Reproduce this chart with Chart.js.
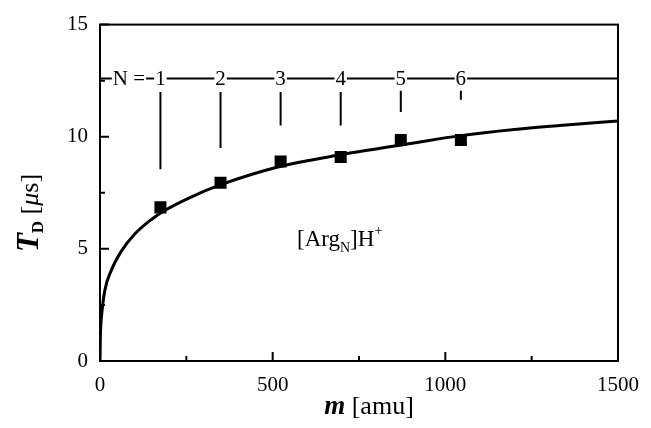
<!DOCTYPE html>
<html>
<head>
<meta charset="utf-8">
<script src="https://cdn.jsdelivr.net/npm/chart.js@4.4.0/dist/chart.umd.min.js"></script>
<style>
  html, body { margin: 0; padding: 0; background: #fff; }
  #wrap { width: 651px; height: 428px; }
</style>
</head>
<body>
<div id="wrap"><canvas id="chart" width="651" height="428"></canvas></div>
<script>
// cluster size N and the measured points
const clusterN = [1, 2, 3, 4, 5, 6];
const massAmu = [175, 349, 523, 697, 871, 1045];
const tdMeasured = [6.85, 7.95, 8.9, 9.1, 9.85, 9.85];

// fitted curve
const fitMass = [0, 1, 2, 5, 14, 33, 62, 100, 148, 186, 262, 348, 515, 697, 900, 1045, 1200, 1350, 1500];
const fitTd = [0, 1.0, 1.5, 2.1, 3.15, 4.05, 4.9, 5.65, 6.3, 6.7, 7.3, 7.85, 8.65, 9.2, 9.7, 10.05, 10.32, 10.52, 10.7];

// "N =" bar and the marker lines under each number
const nBarLevel = 12.6;
const markTop = [12.0, 12.0, 12.0, 12.0, 12.05, 12.05];
const markBottom = [8.55, 9.5, 10.5, 10.5, 11.1, 11.65];

// axis ticks
const xMajor = [0, 500, 1000, 1500];
const xMinor = [250, 750, 1250];
const yMajor = [0, 5, 10, 15];
const yMinor = [2.5, 7.5, 12.5];

const serif = '"Liberation Serif", "DejaVu Serif", serif';

const datasets = [];
datasets.push({
  label: 'fit',
  data: fitMass.map((m, i) => ({ x: m, y: fitTd[i] })),
  showLine: true,
  borderColor: '#000',
  borderWidth: 3,
  pointRadius: 0,
  cubicInterpolationMode: 'monotone'
});
datasets.push({
  label: 'bar',
  data: [{ x: 0, y: nBarLevel }, { x: 1500, y: nBarLevel }],
  showLine: true,
  borderColor: '#000',
  borderWidth: 2,
  pointRadius: 0
});
massAmu.forEach((m, i) => {
  datasets.push({
    label: 'mark' + clusterN[i],
    data: [{ x: m, y: markTop[i] }, { x: m, y: markBottom[i] }],
    showLine: true,
    borderColor: '#000',
    borderWidth: 2,
    pointRadius: 0
  });
});
datasets.push({
  label: 'measured',
  data: massAmu.map((m, i) => ({ x: m, y: tdMeasured[i] })),
  showLine: false,
  pointStyle: 'rect',
  pointRadius: 8.5,
  backgroundColor: '#000',
  borderColor: '#000',
  borderWidth: 0
});

const decor = {
  id: 'decor',
  afterDatasetsDraw(chart) {
    const ctx = chart.ctx;
    const xs = chart.scales.x, ys = chart.scales.y;
    const a = chart.chartArea;
    ctx.save();
    ctx.strokeStyle = '#000';
    ctx.lineWidth = 2;
    ctx.strokeRect(a.left, a.top, a.right - a.left, a.bottom - a.top);

    ctx.beginPath();
    xMajor.forEach(v => { const p = xs.getPixelForValue(v); ctx.moveTo(p, a.bottom); ctx.lineTo(p, a.bottom - 9); });
    xMinor.forEach(v => { const p = xs.getPixelForValue(v); ctx.moveTo(p, a.bottom); ctx.lineTo(p, a.bottom - 5); });
    yMajor.forEach(v => { const p = ys.getPixelForValue(v); ctx.moveTo(a.left, p); ctx.lineTo(a.left + 9, p); });
    yMinor.forEach(v => { const p = ys.getPixelForValue(v); ctx.moveTo(a.left, p); ctx.lineTo(a.left + 5, p); });
    ctx.stroke();

    // N labels on the bar
    ctx.font = '21px ' + serif;
    ctx.textBaseline = 'middle';
    ctx.textAlign = 'center';
    const yb = ys.getPixelForValue(nBarLevel);
    const label = (txt, x) => {
      const w = ctx.measureText(txt).width;
      ctx.fillStyle = '#fff';
      ctx.fillRect(x - w / 2 - 1, yb - 9, w + 2, 18);
      ctx.fillStyle = '#000';
      ctx.fillText(txt, x, yb + 1);
    };
    label('N =', 129);
    massAmu.forEach((m, i) => label(String(clusterN[i]), xs.getPixelForValue(m)));

    // [Arg_N]H+
    ctx.textAlign = 'left';
    ctx.textBaseline = 'alphabetic';
    let x = 297, y = 246;
    ctx.font = '23px ' + serif;
    ctx.fillText('[Arg', x, y); x += ctx.measureText('[Arg').width;
    ctx.font = '14px ' + serif;
    ctx.fillText('N', x, y + 6); x += ctx.measureText('N').width;
    ctx.font = '23px ' + serif;
    ctx.fillText(']H', x, y); x += ctx.measureText(']H').width;
    ctx.font = '14px ' + serif;
    ctx.fillText('+', x, y - 11);

    // x title
    ctx.font = 'italic bold 27px ' + serif;
    const mW = ctx.measureText('m').width;
    ctx.font = '26px ' + serif;
    const restW = ctx.measureText(' [amu]').width;
    x = 369 - (mW + restW) / 2; y = 414;
    ctx.font = 'italic bold 27px ' + serif;
    ctx.fillText('m', x, y);
    ctx.font = '26px ' + serif;
    ctx.fillText(' [amu]', x + mW, y);

    // y title, rotated
    ctx.translate(38, 213);
    ctx.rotate(-Math.PI / 2);
    ctx.font = 'italic bold 31px ' + serif;
    const tW = ctx.measureText('T').width;
    ctx.font = 'bold 17px ' + serif;
    const dW = ctx.measureText('D').width;
    ctx.font = '26px ' + serif;
    const b1W = ctx.measureText(' [').width;
    ctx.font = 'italic 26px ' + serif;
    const muW = ctx.measureText('\u03bc').width;
    ctx.font = '26px ' + serif;
    const sW = ctx.measureText('s]').width;
    x = -(tW + dW + b1W + muW + sW) / 2;
    ctx.font = 'italic bold 31px ' + serif;
    ctx.fillText('T', x, 0); x += tW;
    ctx.font = 'bold 17px ' + serif;
    ctx.fillText('D', x, 5); x += dW;
    ctx.font = '26px ' + serif;
    ctx.fillText(' [', x, 0); x += b1W;
    ctx.font = 'italic 26px ' + serif;
    ctx.fillText('\u03bc', x, 0); x += muW;
    ctx.font = '26px ' + serif;
    ctx.fillText('s]', x, 0);
    ctx.restore();
  }
};

new Chart(document.getElementById('chart'), {
  type: 'scatter',
  data: { datasets: datasets },
  plugins: [decor],
  options: {
    responsive: false,
    animation: false,
    layout: { padding: { left: 0, right: 27, top: 23, bottom: 0 } },
    plugins: { legend: { display: false }, tooltip: { enabled: false } },
    scales: {
      x: {
        type: 'linear', min: 0, max: 1500,
        afterFit: s => { s.height = 67; },
        grid: { display: false, drawTicks: false },
        border: { display: false },
        ticks: {
          stepSize: 500, padding: 12, color: '#000',
          font: { family: serif, size: 21 },
          callback: v => xMajor.includes(v) ? String(v) : ''
        }
      },
      y: {
        type: 'linear', min: 0, max: 15,
        afterFit: s => { s.width = 100; },
        grid: { display: false, drawTicks: false },
        border: { display: false },
        ticks: {
          stepSize: 5, padding: 12, color: '#000',
          font: { family: serif, size: 21 },
          callback: v => yMajor.includes(v) ? String(v) : ''
        }
      }
    }
  }
});
</script>
</body>
</html>
